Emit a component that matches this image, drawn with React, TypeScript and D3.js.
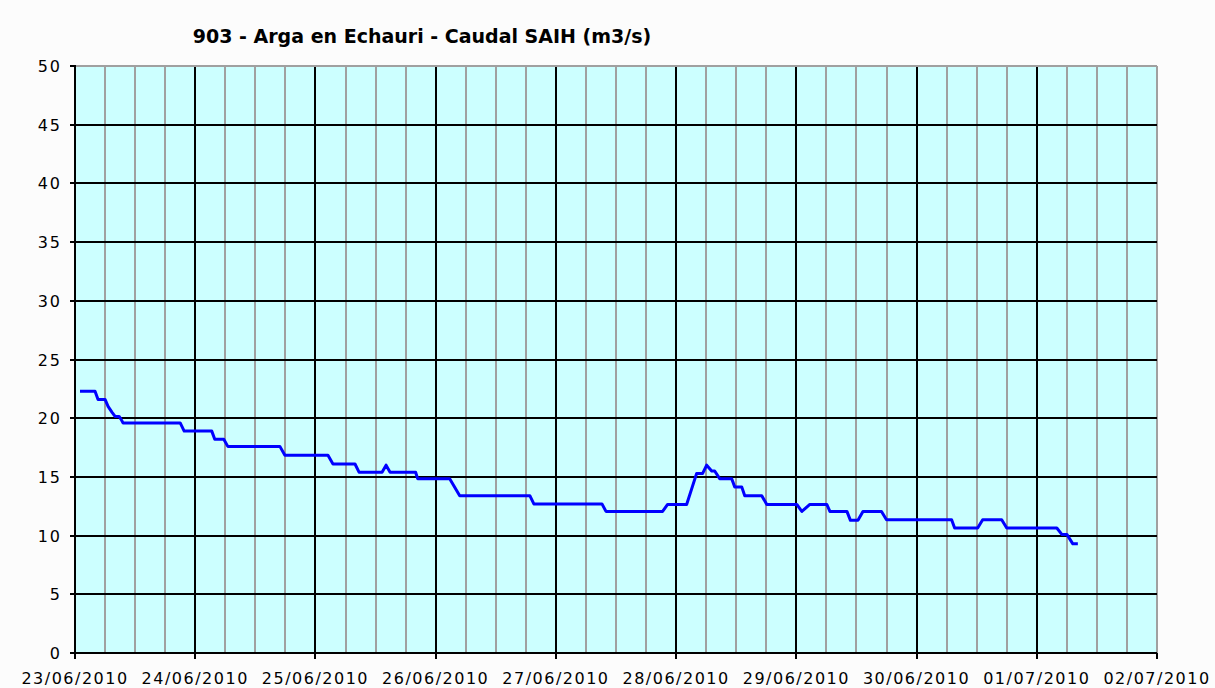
import React from "react";
import * as d3 from "d3";

const TITLE = "903 - Arga en Echauri - Caudal SAIH (m3/s)";

const times: string[] = [
  "2010-06-23T01:00", "2010-06-23T04:00", "2010-06-23T04:36", "2010-06-23T06:00",
  "2010-06-23T06:36", "2010-06-23T07:24", "2010-06-23T08:00", "2010-06-23T08:48",
  "2010-06-23T09:12", "2010-06-23T09:36", "2010-06-23T21:00", "2010-06-23T21:48",
  "2010-06-24T03:18", "2010-06-24T03:54", "2010-06-24T05:42", "2010-06-24T06:30",
  "2010-06-24T16:54", "2010-06-24T17:54", "2010-06-25T02:30", "2010-06-25T03:30",
  "2010-06-25T07:54", "2010-06-25T08:42", "2010-06-25T13:18", "2010-06-25T14:06",
  "2010-06-25T14:54", "2010-06-25T20:00", "2010-06-25T20:24", "2010-06-26T02:48",
  "2010-06-26T04:48", "2010-06-26T18:48", "2010-06-26T19:36", "2010-06-27T09:12",
  "2010-06-27T10:00", "2010-06-27T21:18", "2010-06-27T22:18", "2010-06-28T02:06",
  "2010-06-28T04:06", "2010-06-28T05:18", "2010-06-28T06:06", "2010-06-28T07:06",
  "2010-06-28T07:42", "2010-06-28T08:42", "2010-06-28T11:06", "2010-06-28T11:42",
  "2010-06-28T13:06", "2010-06-28T13:42", "2010-06-28T17:06", "2010-06-28T18:06",
  "2010-06-29T00:06", "2010-06-29T01:06", "2010-06-29T02:42", "2010-06-29T06:06",
  "2010-06-29T06:42", "2010-06-29T10:06", "2010-06-29T10:48", "2010-06-29T12:18",
  "2010-06-29T13:18", "2010-06-29T17:00", "2010-06-29T18:00", "2010-06-30T07:00",
  "2010-06-30T07:36", "2010-06-30T12:12", "2010-06-30T13:12", "2010-06-30T17:00",
  "2010-06-30T18:00", "2010-07-01T04:00", "2010-07-01T05:00", "2010-07-01T06:00",
  "2010-07-01T07:12", "2010-07-01T08:12",
];

const flows: number[] = [
  22.3, 22.3, 21.6, 21.6,
  21.0, 20.5, 20.15, 20.15,
  19.9, 19.6, 19.6, 18.9,
  18.9, 18.2, 18.2, 17.6,
  17.6, 16.85, 16.85, 16.1,
  16.1, 15.4, 15.4, 16.0,
  15.4, 15.4, 14.85, 14.85,
  13.4, 13.4, 12.7, 12.7,
  12.06, 12.06, 12.65, 12.65,
  15.3, 15.3, 16.0, 15.5,
  15.5, 14.85, 14.85, 14.15,
  14.15, 13.4, 13.4, 12.65,
  12.65, 12.06, 12.65, 12.65,
  12.06, 12.06, 11.3, 11.3,
  12.06, 12.06, 11.35, 11.35,
  10.65, 10.65, 11.35, 11.35,
  10.65, 10.65, 10.1, 10.1,
  9.3, 9.3,
];

const yTicks: number[] = [0, 5, 10, 15, 20, 25, 30, 35, 40, 45, 50];
const dayLabels: string[] = [
  "23/06/2010", "24/06/2010", "25/06/2010", "26/06/2010", "27/06/2010",
  "28/06/2010", "29/06/2010", "30/06/2010", "01/07/2010", "02/07/2010",
];

const W = 1215;
const H = 688;
const L = 75, R = 1157, T = 66, B = 653;

export default function App() {
  const parse = d3.timeParse("%Y-%m-%dT%H:%M");
  const parseDay = d3.timeParse("%d/%m/%Y");
  const days = dayLabels.map((d) => parseDay(d) as Date);
  const x = d3.scaleTime().domain([days[0], days[days.length - 1]]).range([L, R]);
  const y = d3.scaleLinear().domain([0, 50]).range([B, T]);
  const minor = d3.timeHour.every(6)!.range(days[0], days[days.length - 1]);
  const data = times.map((t, i) => ({ t: parse(t) as Date, v: flows[i] }));
  const line = d3
    .line<{ t: Date; v: number }>()
    .x((d) => x(d.t))
    .y((d) => y(d.v));
  const font = "Tahoma, 'DejaVu Sans', Verdana, sans-serif";
  const px = (v: number) => Math.round(v);

  return (
    <div style={{ position: "absolute", left: 0, top: 0 }}>
      <style>{`body{margin:0}`}</style>
      <svg width={W} height={H} style={{ display: "block" }}>
        <rect x={0} y={0} width={W} height={H} fill="#fcfcfc" />
        <rect x={L} y={T} width={R - L} height={B - T} fill="#ccffff" />
        {minor.map((d, i) => (
          <line key={"m" + i} x1={px(x(d))} x2={px(x(d))} y1={T} y2={B}
            stroke="#a0a0a0" strokeWidth={2} />
        ))}
        {days.map((d, i) => (
          <line key={"d" + i} x1={px(x(d))} x2={px(x(d))} y1={T} y2={B}
            stroke={i === days.length - 1 ? "#a0a0a0" : "#000"} strokeWidth={2} />
        ))}
        {yTicks.map((v, i) => (
          <line key={"h" + i} x1={L - 5} x2={R} y1={px(y(v))} y2={px(y(v))}
            stroke={v === 50 ? "#a0a0a0" : "#000"} strokeWidth={2} />
        ))}
        <line x1={L - 5} x2={L} y1={px(y(50))} y2={px(y(50))} stroke="#000" strokeWidth={2} />
        <line x1={L} x2={L} y1={T - 1} y2={B} stroke="#000" strokeWidth={2} />
        <line x1={L} x2={R} y1={B} y2={B} stroke="#000" strokeWidth={2} />
        {days.map((d, i) => (
          <line key={"t" + i} x1={px(x(d))} x2={px(x(d))} y1={B} y2={B + 6}
            stroke="#000" strokeWidth={2} />
        ))}
        <path d={line(data) || ""} fill="none" stroke="#0000ff" strokeWidth={3} strokeLinejoin="round" />
        {yTicks.map((v, i) => (
          <text key={"yl" + i} x={L - 13} y={y(v) + 6} textAnchor="end" fontFamily={font}
            fontSize={16} letterSpacing={2} fill="#000">{v}</text>
        ))}
        {days.map((d, i) => (
          <text key={"xl" + i} x={x(d)} y={684} textAnchor="middle" fontFamily={font}
            fontSize={16} letterSpacing={1.5} fill="#000">{dayLabels[i]}</text>
        ))}
        <text x={422} y={43} textAnchor="middle" fontFamily={font} fontWeight="bold"
          fontSize={19} fill="#000">{TITLE}</text>
      </svg>
    </div>
  );
}
